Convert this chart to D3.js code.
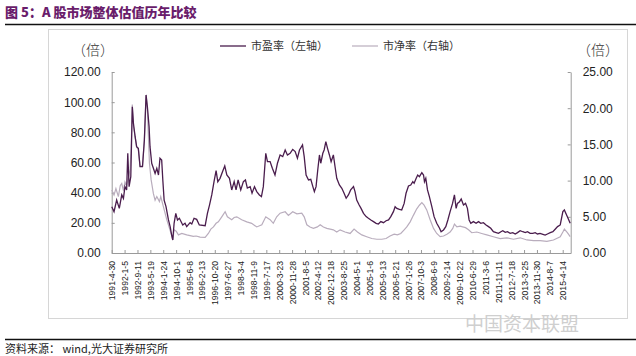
<!DOCTYPE html>
<html><head><meta charset="utf-8">
<script src="https://cdn.jsdelivr.net/npm/d3@7"></script>
<style>
html,body{margin:0;padding:0;background:#fff;}
svg{display:block;}
</style></head>
<body>
<svg id="c" width="636" height="356"></svg>
<script>
// ---------- DATA ----------
const xTickLabels = ["1991-4-30","1992-1-5","1992-9-11","1993-5-19","1994-1-24","1994-10-1","1995-6-8","1996-2-13","1996-10-20","1997-6-27","1998-3-4","1998-11-9","1999-7-17","2000-3-23","2000-11-28","2001-8-5","2002-4-12","2002-12-18","2003-8-25","2004-5-1","2005-1-6","2005-9-13","2006-5-21","2007-1-26","2007-10-3","2008-6-9","2009-2-14","2009-10-22","2010-6-29","2011-3-6","2011-11-11","2012-7-18","2013-3-25","2013-11-30","2014-8-7","2015-4-14"];
const leftTicks = [0,20,40,60,80,100,120];
const rightTicks = [0,5,10,15,20,25];
const seriesNames = ["市盈率（左轴）","市净率（右轴）"];

// 市盈率 (PE), time as decimal year
const peTime = [1991.33,1991.45,1991.59,1991.73,1991.86,1991.95,1992.03,1992.12,1992.18,1992.25,1992.34,1992.42,1992.48,1992.57,1992.65,1992.74,1992.83,1992.96,1993.06,1993.15,1993.22,1993.31,1993.36,1993.45,1993.54,1993.63,1993.72,1993.81,1993.89,1993.98,1994.04,1994.11,1994.21,1994.34,1994.43,1994.51,1994.57,1994.64,1994.73,1994.82,1994.92,1995.10,1995.22,1995.31,1995.49,1995.58,1995.70,1995.84,1995.98,1996.29,1996.41,1996.52,1996.64,1996.76,1996.87,1996.96,1997.08,1997.21,1997.33,1997.44,1997.58,1997.70,1997.83,1997.93,1998.04,1998.18,1998.32,1998.43,1998.53,1998.68,1998.78,1998.91,1999.03,1999.17,1999.28,1999.38,1999.51,1999.60,1999.74,1999.86,2000.00,2000.13,2000.27,2000.41,2000.54,2000.66,2000.80,2000.94,2001.07,2001.19,2001.30,2001.46,2001.55,2001.65,2001.78,2001.90,2002.01,2002.09,2002.18,2002.27,2002.36,2002.43,2002.54,2002.61,2002.70,2002.79,2002.89,2002.98,2003.10,2003.19,2003.28,2003.42,2003.55,2003.67,2003.78,2003.90,2004.02,2004.17,2004.25,2004.34,2004.47,2004.57,2004.70,2004.84,2004.96,2005.09,2005.23,2005.37,2005.49,2005.62,2005.76,2005.90,2006.03,2006.15,2006.29,2006.38,2006.47,2006.61,2006.73,2006.86,2006.96,2007.09,2007.21,2007.32,2007.39,2007.50,2007.58,2007.67,2007.80,2007.89,2007.94,2008.01,2008.10,2008.20,2008.33,2008.45,2008.59,2008.74,2008.82,2008.95,2009.07,2009.18,2009.30,2009.43,2009.53,2009.62,2009.69,2009.80,2009.89,2010.01,2010.12,2010.22,2010.31,2010.40,2010.54,2010.68,2010.81,2010.93,2011.07,2011.21,2011.34,2011.46,2011.60,2011.75,2011.87,2012.00,2012.10,2012.23,2012.35,2012.49,2012.63,2012.76,2012.88,2013.02,2013.16,2013.29,2013.41,2013.55,2013.69,2013.82,2013.94,2014.08,2014.23,2014.35,2014.47,2014.62,2014.76,2014.88,2015.01,2015.15,2015.29,2015.37,2015.53,2015.68];
const peValue = [30.7,27.4,35.1,29.6,38.5,36.2,44.0,41.8,66.1,44.0,50.6,97.0,86.0,77.1,70.5,69.4,57.2,57.2,74.9,104.8,97.0,83.8,70.5,59.5,56.2,52.8,56.2,51.7,62.8,61.7,48.4,35.1,30.7,21.9,17.5,11.9,8.6,19.7,26.3,21.9,23.0,18.6,19.7,17.5,20.1,19.2,23.0,22.3,18.6,18.1,26.3,31.8,38.5,47.3,54.6,47.3,49.5,53.9,57.7,51.7,49.5,41.8,47.3,41.8,48.4,41.8,47.3,48.4,43.0,44.0,39.6,44.0,40.7,38.5,37.4,44.0,66.1,60.6,60.6,56.2,51.7,59.5,65.0,63.9,68.3,65.0,66.1,68.7,67.2,62.8,68.3,71.6,63.9,51.7,48.4,48.8,44.0,40.7,44.0,55.0,65.0,59.5,66.1,68.3,73.8,69.4,65.0,60.6,65.0,57.2,49.5,45.1,42.9,39.6,36.3,38.5,41.8,44.0,40.7,35.1,31.8,29.6,26.3,24.1,23.0,21.9,20.8,19.7,19.2,20.8,20.1,21.4,21.9,24.1,27.4,30.7,29.6,28.9,28.5,32.9,39.6,44.4,45.1,47.3,46.2,49.5,51.7,50.6,53.3,51.7,47.3,49.5,41.8,37.4,30.7,24.1,19.7,16.4,14.1,15.3,17.5,21.9,27.4,32.9,38.5,29.6,32.9,34.0,35.8,31.8,32.9,29.6,21.9,19.7,20.8,19.7,20.8,19.7,20.1,18.6,17.5,16.4,14.1,13.5,13.0,14.1,14.8,13.7,14.1,13.0,13.5,12.6,13.5,14.8,14.1,13.5,14.1,13.0,13.0,13.5,12.6,13.0,12.4,11.9,12.6,13.5,14.1,15.7,17.5,18.6,27.4,28.5,24.1,19.7];

// 市净率 (PB)
const pbTime = [1991.33,1991.45,1991.55,1991.68,1991.78,1991.86,1991.95,1992.03,1992.12,1992.21,1992.30,1992.36,1992.42,1992.48,1992.57,1992.65,1992.74,1992.83,1992.96,1993.06,1993.15,1993.22,1993.33,1993.42,1993.54,1993.63,1993.72,1993.86,1993.93,1994.07,1994.25,1994.37,1994.48,1994.57,1994.64,1994.75,1994.87,1995.05,1995.31,1995.49,1995.66,1995.81,1996.02,1996.29,1996.46,1996.59,1996.73,1996.87,1996.99,1997.17,1997.35,1997.47,1997.70,1997.83,1997.97,1998.23,1998.50,1998.76,1999.03,1999.30,1999.51,1999.74,1999.91,2000.09,2000.27,2000.54,2000.71,2000.94,2001.16,2001.42,2001.55,2001.69,2001.86,2002.04,2002.25,2002.40,2002.57,2002.75,2002.93,2003.10,2003.28,2003.46,2003.72,2003.99,2004.20,2004.38,2004.61,2004.87,2005.14,2005.41,2005.67,2005.90,2006.11,2006.33,2006.50,2006.68,2006.86,2007.00,2007.18,2007.35,2007.53,2007.67,2007.80,2007.92,2008.06,2008.24,2008.42,2008.59,2008.77,2008.95,2009.13,2009.30,2009.44,2009.53,2009.66,2009.83,2009.97,2010.12,2010.28,2010.45,2010.72,2010.98,2011.25,2011.60,2011.96,2012.31,2012.67,2013.02,2013.38,2013.73,2014.08,2014.44,2014.79,2015.15,2015.29,2015.37,2015.53,2015.68];
const pbValue = [8.7,8.0,8.9,7.8,9.3,9.6,8.6,9.8,9.3,10.4,11.5,14.5,20.5,17.5,16.0,14.6,14.3,12.0,12.0,15.6,21.8,19.8,12.4,10.1,8.2,7.3,7.8,7.1,7.8,6.4,4.6,3.6,2.7,1.8,3.2,3.0,2.5,2.7,2.5,2.4,2.3,2.35,2.2,2.15,2.7,3.3,3.6,4.1,4.3,5.0,5.7,5.0,4.6,4.9,5.0,4.6,4.3,4.1,3.6,3.9,5.0,4.6,4.1,5.0,5.5,5.7,5.2,5.7,5.4,5.5,5.0,3.9,3.6,3.4,3.6,3.9,3.6,3.4,3.3,3.2,2.9,3.2,2.9,2.7,3.3,2.9,2.5,2.25,2.0,1.9,1.9,2.0,2.35,2.6,2.5,2.7,3.2,3.6,4.3,5.2,6.1,6.6,6.95,6.6,5.95,4.6,3.4,2.7,2.25,2.35,2.6,2.9,3.4,4.0,3.6,3.7,3.6,3.5,3.2,2.8,2.9,2.7,2.5,2.25,2.0,2.1,1.9,2.1,1.8,1.7,1.7,1.6,1.8,2.25,2.9,3.3,2.8,2.25];

// ---------- DRAW ----------
const svg = d3.select("#c");
const parseTick = d3.timeParse("%Y-%m-%d");
const toDate = y => { const yr = Math.floor(y); const s = new Date(yr,0,1), e = new Date(yr+1,0,1); return new Date(+s + (y-yr)*(e-s)); };
const tickDates = xTickLabels.map(parseTick);
const x0 = tickDates[0];
const x1 = d3.timeDay.offset(x0, 8905);

const x = d3.scaleTime().domain([x0, x1]).range([111.7, 570.7]);
const yL = d3.scaleLinear().domain([0,120]).range([253,72]);
const yR = d3.scaleLinear().domain([0,25]).range([253,72]);

// title
svg.append("text").attr("x",5).attr("y",17)
  .attr("font-family","'Noto Sans CJK SC'").attr("font-weight","900").attr("font-size",13)
  .attr("fill","#6a1d6b").text("图 5：A 股市场整体估值历年比较");
svg.append("line").attr("x1",5).attr("x2",636).attr("y1",24.5).attr("y2",24.5).attr("stroke","#111").attr("stroke-width",1.5);

// frame
svg.append("rect").attr("x",48.5).attr("y",29.5).attr("width",579).attr("height",289).attr("fill","none").attr("stroke","#d6d6d6");

// watermark
svg.append("text").attr("x",465).attr("y",331).attr("font-family","'Noto Sans CJK SC'").attr("font-size",19)
  .attr("fill","#cfcfcf").text("中国资本联盟");

// axes
const fmt = d3.format(".2f");
const gL = svg.append("g").attr("transform","translate(111.7,0)")
  .call(d3.axisLeft(yL).tickValues(leftTicks).tickFormat(fmt).tickSizeInner(-3).tickSizeOuter(0).tickPadding(11));
const gR = svg.append("g").attr("transform","translate(570.7,0)")
  .call(d3.axisRight(yR).tickValues(rightTicks).tickFormat(fmt).tickSizeInner(-3).tickSizeOuter(0).tickPadding(12));
[gL,gR].forEach(g=>{
  g.select(".domain").attr("stroke","#9a9a9a");
  g.selectAll(".tick line").attr("stroke","#9a9a9a");
  g.selectAll("text").attr("font-family","'Liberation Sans',Arial").attr("font-size",12).attr("fill","#222");
});

const gX = svg.append("g").attr("transform","translate(0,253)")
  .call(d3.axisBottom(x).tickValues(tickDates).tickFormat((d,i)=>xTickLabels[i]).tickSizeInner(-3).tickSizeOuter(0));
gX.select(".domain").attr("stroke","#9a9a9a");
gX.selectAll(".tick line").attr("stroke","#9a9a9a");
gX.selectAll("text")
  .attr("font-family","'Liberation Sans',Arial").attr("font-size",8.6).attr("fill","#222")
  .attr("text-anchor","end").attr("dy","0.35em")
  .attr("transform","translate(0,8) rotate(-90)").attr("x",0).attr("y",0);

// lines
const linePE = d3.line().x((d,i)=>x(toDate(peTime[i]))).y(d=>yL(d));
const linePB = d3.line().x((d,i)=>x(toDate(pbTime[i]))).y(d=>yR(d));
svg.append("path").attr("d",linePB(pbValue)).attr("fill","none").attr("stroke","#b9adbd").attr("stroke-width",1.2);
svg.append("path").attr("d",linePE(peValue)).attr("fill","none").attr("stroke","#4a1d4d").attr("stroke-width",1.3);

// unit labels
svg.append("text").attr("x",72).attr("y",55).attr("font-family","'Noto Sans CJK SC'").attr("font-weight",300).attr("font-size",14).attr("fill","#333").text("（倍）");
svg.append("text").attr("x",577).attr("y",55).attr("font-family","'Noto Sans CJK SC'").attr("font-weight",300).attr("font-size",14).attr("fill","#333").text("（倍）");

// legend
const lg = svg.append("g");
const legendItems = [{x:220, c:"#4a1d4d", w:1.3},{x:352, c:"#b9adbd", w:1.2}];
legendItems.forEach((it,i)=>{
  lg.append("line").attr("x1",it.x).attr("x2",it.x+26).attr("y1",46).attr("y2",46).attr("stroke",it.c).attr("stroke-width",it.w);
  lg.append("text").attr("x",it.x+31).attr("y",50).attr("font-family","'Noto Sans CJK SC'").attr("font-size",11).attr("fill","#333").text(seriesNames[i]);
});

// source
svg.append("line").attr("x1",5).attr("x2",636).attr("y1",339.5).attr("y2",339.5).attr("stroke","#111").attr("stroke-width",1.5);
svg.append("text").attr("x",5).attr("y",353).attr("font-family","'Noto Sans CJK SC'").attr("font-size",11).attr("fill","#222").text("资料来源： wind,光大证券研究所");
</script>
</body></html>
